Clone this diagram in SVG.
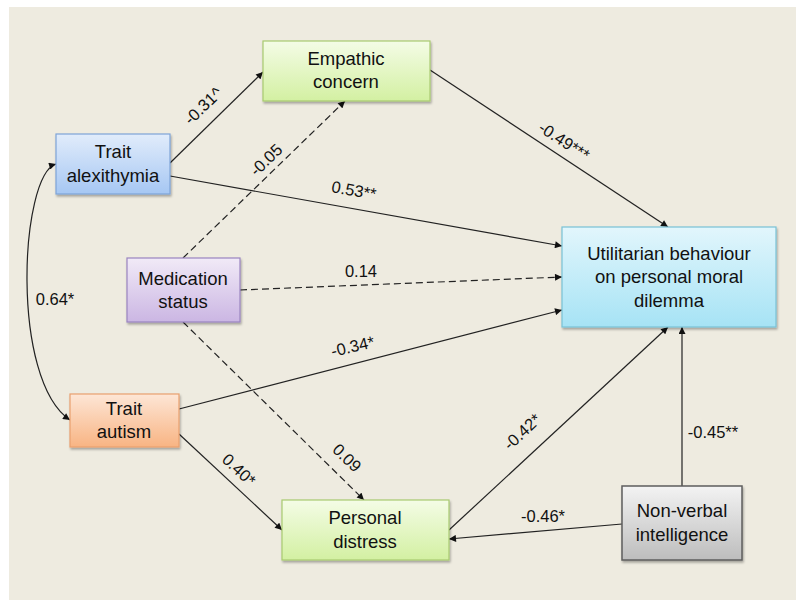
<svg xmlns="http://www.w3.org/2000/svg" width="796" height="600" viewBox="0 0 796 600">
<defs>
<style>
.node text{font-family:"Liberation Sans",Arial,sans-serif;font-size:18.5px;fill:#111;text-anchor:middle}
.lbl{font-family:"Liberation Sans",Arial,sans-serif;font-size:16.5px;fill:#111;text-anchor:middle}
.c{fill:none;stroke:#222;stroke-width:1.2}
.d{stroke-dasharray:7,4}
</style>
<marker id="ah" viewBox="0 0 10 10" refX="10" refY="5" markerWidth="8" markerHeight="7" markerUnits="userSpaceOnUse" orient="auto-start-reverse"><path d="M0,0 L10,5 L0,10 z" fill="#111"/></marker>
<linearGradient id="gGreen" x1="0" y1="0" x2="0" y2="1"><stop offset="0" stop-color="#F4FCE6"/><stop offset="1" stop-color="#D3F0A2"/></linearGradient>
<linearGradient id="gBlue" x1="0" y1="0" x2="0" y2="1"><stop offset="0" stop-color="#E1ECFB"/><stop offset="1" stop-color="#A6C7F3"/></linearGradient>
<linearGradient id="gPurple" x1="0" y1="0" x2="0" y2="1"><stop offset="0" stop-color="#F1EAF7"/><stop offset="1" stop-color="#CBB6E3"/></linearGradient>
<linearGradient id="gCyan" x1="0" y1="0" x2="0" y2="1"><stop offset="0" stop-color="#E2F6FC"/><stop offset="1" stop-color="#A6E3F5"/></linearGradient>
<linearGradient id="gOrange" x1="0" y1="0" x2="0" y2="1"><stop offset="0" stop-color="#FDE6D6"/><stop offset="1" stop-color="#F8B483"/></linearGradient>
<linearGradient id="gGray" x1="0" y1="0" x2="0" y2="1"><stop offset="0" stop-color="#F3F3F3"/><stop offset="1" stop-color="#BDBDBD"/></linearGradient>
<filter id="sh" x="-10%" y="-10%" width="130%" height="130%"><feDropShadow dx="1" dy="2" stdDeviation="1.2" flood-color="#000" flood-opacity="0.3"/></filter>
</defs>
<rect x="0" y="0" width="796" height="600" fill="#FFFFFF"/>
<rect x="9" y="7" width="787" height="593" fill="#EEEBE0"/>

<g id="connectors">
<path class="c" d="M170,163 L263,72" marker-end="url(#ah)"/>
<path class="c d" d="M183,258 L345,101" marker-end="url(#ah)"/>
<path class="c" d="M170,176 L562,246" marker-end="url(#ah)"/>
<path class="c" d="M430,70 L668,227" marker-end="url(#ah)"/>
<path class="c d" d="M240,290 L562,277" marker-end="url(#ah)"/>
<path class="c" d="M179,409 L562,310" marker-end="url(#ah)"/>
<path class="c d" d="M183,322 L364,500" marker-end="url(#ah)"/>
<path class="c" d="M179,434 L282,530" marker-end="url(#ah)"/>
<path class="c" d="M449,530 L668,327" marker-end="url(#ah)"/>
<path class="c" d="M682,486 L682,327" marker-end="url(#ah)"/>
<path class="c" d="M622,524 L449,539" marker-end="url(#ah)"/>
<path class="c" d="M56,164 C20,175 10,380 70,420" marker-start="url(#ah)" marker-end="url(#ah)"/>
<text class="lbl" transform="translate(207,110) rotate(-44)">-0.31^</text>
<text class="lbl" transform="translate(270,164) rotate(-44)">-0.05</text>
<text class="lbl" transform="translate(353,196) rotate(10)">0.53**</text>
<text class="lbl" x="361" y="277">0.14</text>
<text class="lbl" transform="translate(561,146) rotate(33)">-0.49***</text>
<text class="lbl" x="55" y="305">0.64*</text>
<text class="lbl" transform="translate(354,352) rotate(-13)">-0.34*</text>
<text class="lbl" transform="translate(235,474) rotate(43)">0.40*</text>
<text class="lbl" transform="translate(343,462) rotate(44)">0.09</text>
<text class="lbl" transform="translate(526,436) rotate(-43)">-0.42*</text>
<text class="lbl" x="713" y="438">-0.45**</text>
<text class="lbl" x="543" y="522">-0.46*</text>
</g>

<g id="empathic" class="node">
<rect x="263" y="41" width="167" height="60" fill="url(#gGreen)" stroke="#A8CA70" stroke-width="1.2" filter="url(#sh)"/>
<text x="346" y="65">Empathic</text><text x="346" y="88">concern</text>
</g>
<g id="alexithymia" class="node">
<rect x="56" y="134" width="114" height="60" fill="url(#gBlue)" stroke="#7EA4D8" stroke-width="1.2" filter="url(#sh)"/>
<text x="113" y="158">Trait</text><text x="113" y="182">alexithymia</text>
</g>
<g id="medication" class="node">
<rect x="127" y="258" width="113" height="64" fill="url(#gPurple)" stroke="#9A84C0" stroke-width="1.2" filter="url(#sh)"/>
<text x="183" y="285">Medication</text><text x="183" y="308">status</text>
</g>
<g id="utilitarian" class="node">
<rect x="562" y="227" width="214" height="100" fill="url(#gCyan)" stroke="#78C2D6" stroke-width="1.2" filter="url(#sh)"/>
<text x="669" y="260">Utilitarian behaviour</text><text x="669" y="283">on personal moral</text><text x="669" y="307">dilemma</text>
</g>
<g id="autism" class="node">
<rect x="70" y="394" width="109" height="53" fill="url(#gOrange)" stroke="#E9A06E" stroke-width="1.2" filter="url(#sh)"/>
<text x="124" y="415">Trait</text><text x="124" y="438">autism</text>
</g>
<g id="distress" class="node">
<rect x="282" y="500" width="167" height="60" fill="url(#gGreen)" stroke="#A8CA70" stroke-width="1.2" filter="url(#sh)"/>
<text x="365" y="524">Personal</text><text x="365" y="548">distress</text>
</g>
<g id="nonverbal" class="node">
<rect x="622" y="486" width="120" height="74" fill="url(#gGray)" stroke="#5E5E5E" stroke-width="1.5" filter="url(#sh)"/>
<text x="682" y="517">Non-verbal</text><text x="682" y="541">intelligence</text>
</g>
</svg>
